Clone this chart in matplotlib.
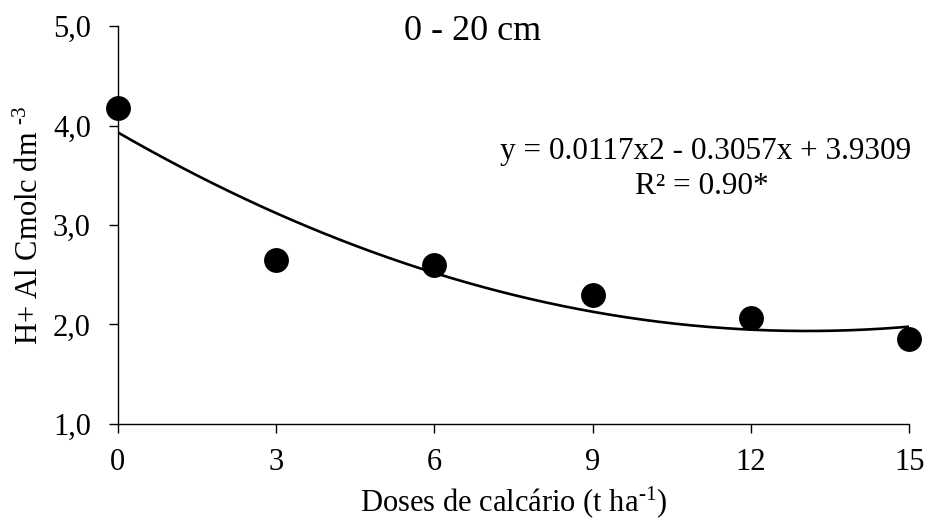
import numpy as np
import matplotlib
matplotlib.use("Agg")
import matplotlib.pyplot as plt

# dados
doses = [0, 3, 6, 9, 12, 15]
hal = [4.18, 2.65, 2.60, 2.30, 2.06, 1.85]
# coeficientes da regressão (equação mostrada no gráfico)
coef = [0.0117, -0.3057, 3.9309]
xticks = [0, 3, 6, 9, 12, 15]
yticks = [1.0, 2.0, 3.0, 4.0, 5.0]
yticklabels = ["1,0", "2,0", "3,0", "4,0", "5,0"]

plt.rcParams["font.family"] = ["Liberation Serif", "DejaVu Serif"]
plt.rcParams["mathtext.fontset"] = "custom"
plt.rcParams["mathtext.rm"] = "Liberation Serif"
plt.rcParams["mathtext.it"] = "Liberation Serif"

fig = plt.figure(figsize=(9.28, 5.22), dpi=100)
ax = fig.add_axes([0.127, 0.188, 0.853, 0.762])

xs = np.linspace(0, 15, 200)
ax.plot(xs, np.polyval(coef, xs), color="black", lw=1.9, zorder=2)
ax.scatter(doses, hal, s=285, color="black", zorder=3, clip_on=False)

ax.set_xlim(0, 15); ax.set_ylim(1.0, 5.0)
ax.set_xticks(xticks)
ax.set_yticks(yticks)
ax.set_yticklabels(yticklabels)
ax.tick_params(direction="out", length=6.5, width=1.0, labelsize=22, color="black")
ax.tick_params(axis="x", pad=11)
ax.tick_params(axis="y", pad=13)
for s in ["top", "right"]:
    ax.spines[s].set_visible(False)
for s in ["left", "bottom"]:
    ax.spines[s].set_linewidth(1.0)

# hífen (U+2010) em vez do sinal de menos do mathtext
ax.set_xlabel("Doses de calcário (t ha$^{\u2010\\mathrm{1}}$)", fontsize=22, labelpad=5)
ax.set_ylabel("H+ Al Cmolc dm $^{\u2010\\mathrm{3}}$", fontsize=22, labelpad=6)

fig.text(473 / 928, 1 - 32 / 522, "0 - 20 cm", fontsize=26, ha="center", va="center")
fig.text(706 / 928, 1 - 152 / 522, "y = 0.0117x2 - 0.3057x + 3.9309", fontsize=22.5,
         ha="center", va="center")
fig.text(702 / 928, 1 - 187 / 522, "R² = 0.90*", fontsize=22.5, ha="center", va="center")

fig.savefig("out.png", dpi=100)
